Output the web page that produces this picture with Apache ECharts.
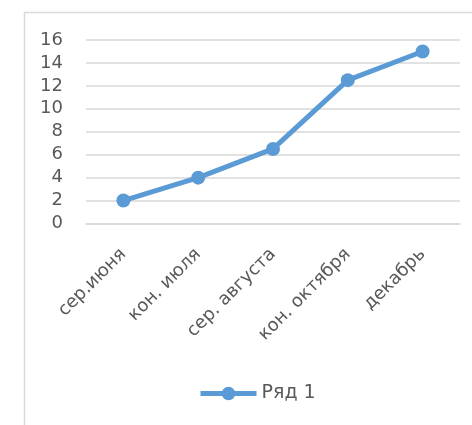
<!DOCTYPE html>
<html><head><meta charset="utf-8">
<script src="https://cdn.jsdelivr.net/npm/echarts@6/dist/echarts.min.js"></script>
<style>html,body{margin:0;padding:0;background:#fff}#c{width:472px;height:425px}</style>
</head><body><div id="c"></div>
<script>
const categories = ['сер.июня', 'кон. июля', 'сер. августа', 'кон. октября', 'декабрь'];
const seriesName = 'Ряд 1';
const values = [2, 4, 6.5, 12.5, 15];
const yMin = 0, yMax = 16, yStep = 2;

const font = 'DejaVu Sans, sans-serif';
const chart = echarts.init(document.getElementById('c'), null, {renderer: 'canvas'});
chart.setOption({
  animation: false,
  backgroundColor: '#fff',
  graphic: [{
    type: 'rect', left: 22, top: 10,
    shape: {width: 470, height: 430},
    style: {fill: 'none', stroke: '#d9d9d9', lineWidth: 1.5}
  }],
  grid: {left: 86, right: 12, top: 40, bottom: 201.5, containLabel: false},
  legend: {
    data: [seriesName], top: 379, left: 193,
    itemWidth: 56, itemHeight: 17, itemGap: 4,
    lineStyle: {width: 5},
    textStyle: {color: '#595959', fontSize: 19, fontFamily: font, padding: [0, 0, 0, 0]}
  },
  xAxis: {
    type: 'category', data: categories, boundaryGap: true,
    axisLine: {lineStyle: {color: '#d9d9d9', width: 1.5}},
    axisTick: {show: false},
    axisLabel: {rotate: 45, color: '#595959', fontSize: 18, fontFamily: font, margin: 28, interval: 0}
  },
  yAxis: {
    type: 'value', min: yMin, max: yMax, interval: yStep,
    axisLine: {show: false}, axisTick: {show: false},
    splitLine: {lineStyle: {color: '#d9d9d9', width: 1.5}},
    axisLabel: {color: '#595959', fontSize: 18, fontFamily: font, margin: 23}
  },
  series: [{
    name: seriesName, type: 'line', data: values,
    symbol: 'circle', symbolSize: 14,
    lineStyle: {color: '#5b9bd5', width: 5},
    itemStyle: {color: '#5b9bd5'}
  }]
});
</script></body></html>
